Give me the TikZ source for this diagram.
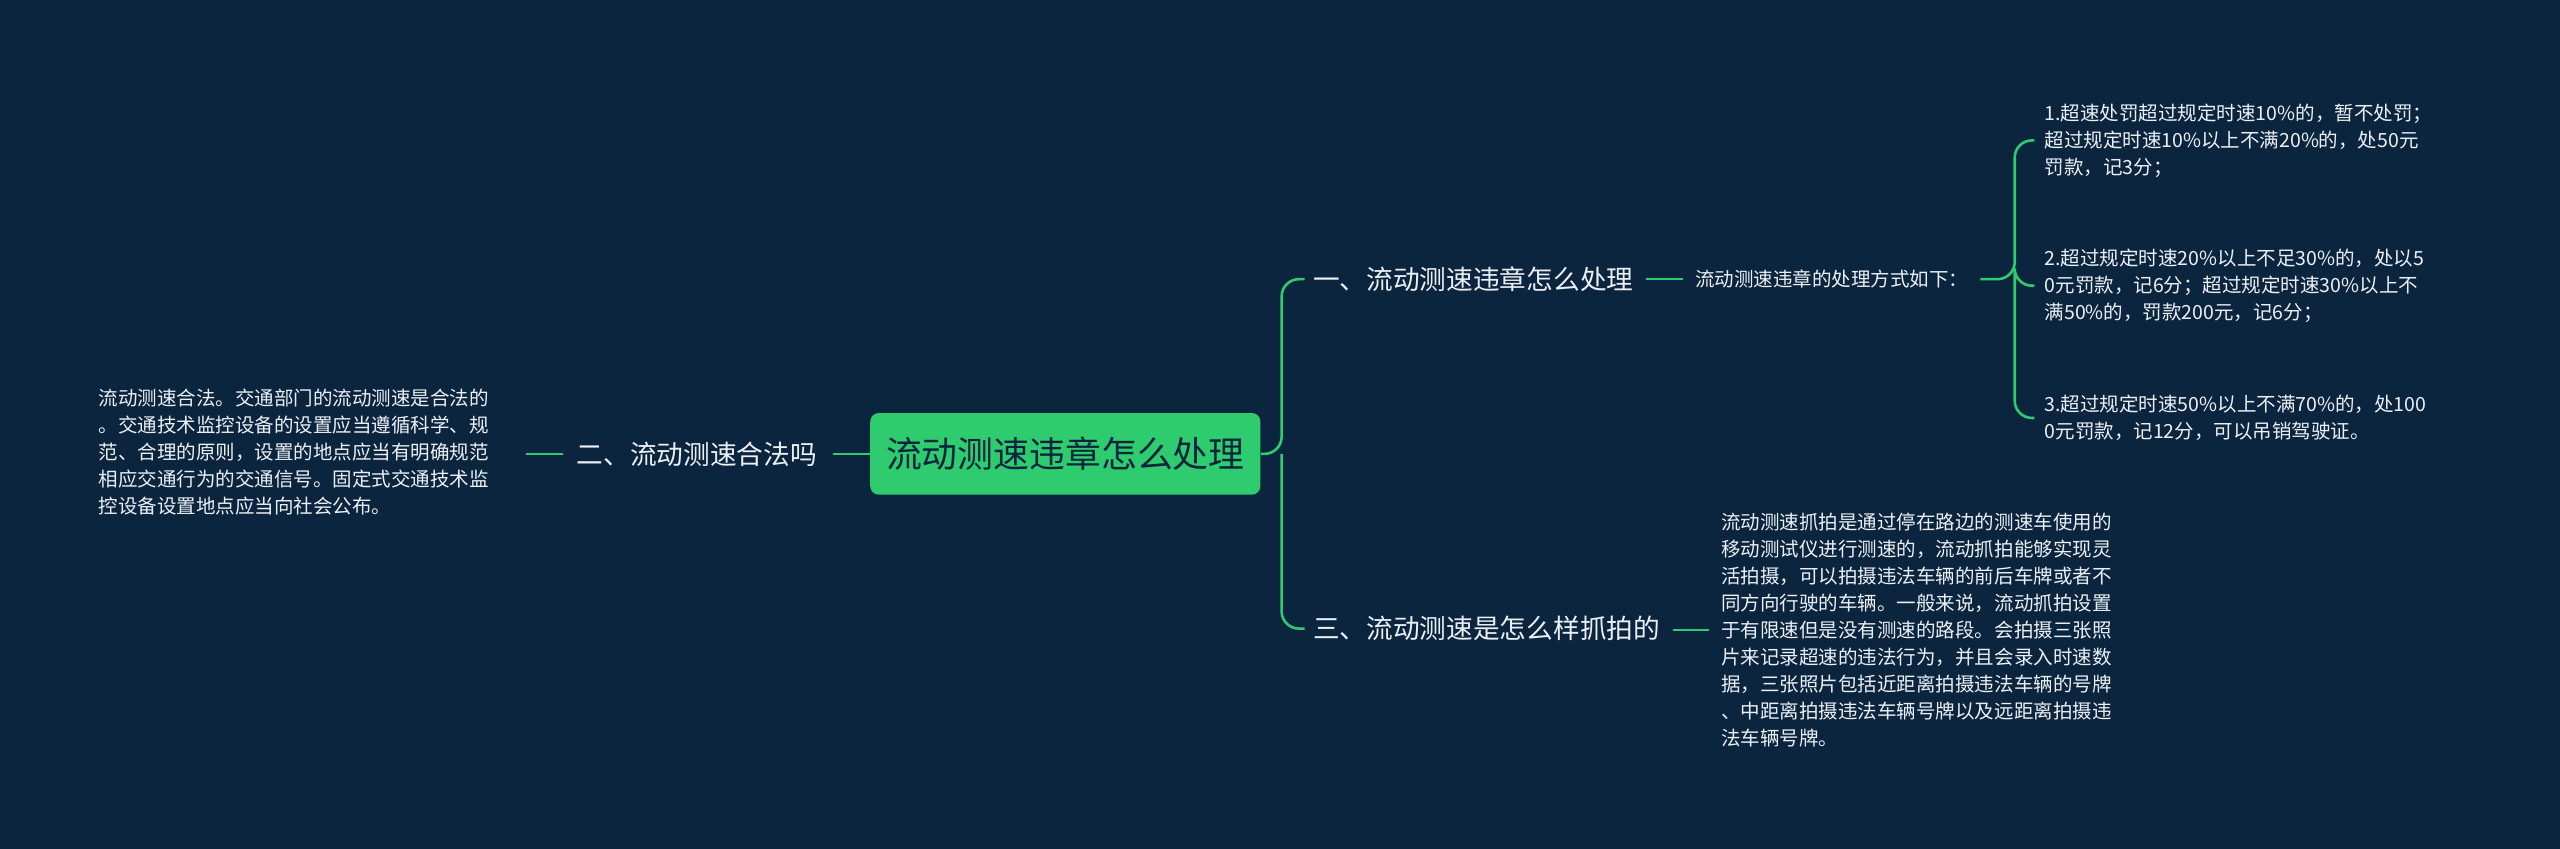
\documentclass[tikz,border=0pt]{standalone}
\usepackage{fontspec}
\setmainfont{Noto Sans CJK SC}
\definecolor{bg}{RGB}{12,37,63}
\definecolor{gr}{RGB}{46,204,110}
\definecolor{tx}{RGB}{235,240,245}
\begin{document}
\begin{tikzpicture}[x=0.02cm,y=-0.02cm,
  small/.style={text=tx,font=\fontsize{6.8}{9.4}\selectfont,align=left,inner sep=0pt,anchor=west},
  br/.style={text=tx,font=\fontsize{9.3}{11}\selectfont,inner sep=0pt,anchor=west},
  ln/.style={draw=gr,line width=0.9pt,rounded corners=6}]
\fill[bg] (0,0) rectangle (1568,520);
\useasboundingbox (0,0) rectangle (1568,520);
\node[fill=gr,rounded corners=3,minimum width=239*0.02cm,minimum height=50*0.02cm,inner sep=0pt,font=\fontsize{12.5}{14}\selectfont,text=bg] (root) at (652.5,278) {流动测速违章怎么处理};
\node[br] (b2) at (353,278) {二、流动测速合法吗};
\node[small] (l2) at (60,277) {流动测速合法。交通部门的流动测速是合法的\\。交通技术监控设备的设置应当遵循科学、规\\范、合理的原则，设置的地点应当有明确规范\\相应交通行为的交通信号。固定式交通技术监\\控设备设置地点应当向社会公布。};
\node[br] (b1) at (804,171) {一、流动测速违章怎么处理};
\node[br] (b3) at (804,385) {三、流动测速是怎么样抓拍的};
\node[small] (m1) at (1038,171) {流动测速违章的处理方式如下：};
\node[small] (k1) at (1252,86) {1.超速处罚超过规定时速10\%的，暂不处罚；\\超过规定时速10\%以上不满20\%的，处50元\\罚款，记3分；};
\node[small] (k2) at (1252,175) {2.超过规定时速20\%以上不足30\%的，处以5\\0元罚款，记6分；超过规定时速30\%以上不\\满50\%的，罚款200元，记6分；};
\node[small] (k3) at (1252,256) {3.超过规定时速50\%以上不满70\%的，处100\\0元罚款，记12分，可以吊销驾驶证。};
\node[small] (l3) at (1054,386) {流动测速抓拍是通过停在路边的测速车使用的\\移动测试仪进行测速的，流动抓拍能够实现灵\\活拍摄，可以拍摄违法车辆的前后车牌或者不\\同方向行驶的车辆。一般来说，流动抓拍设置\\于有限速但是没有测速的路段。会拍摄三张照\\片来记录超速的违法行为，并且会录入时速数\\据，三张照片包括近距离拍摄违法车辆的号牌\\、中距离拍摄违法车辆号牌以及远距离拍摄违\\法车辆号牌。};
\coordinate (c2) at (510,278);
\coordinate (c1) at (799,171);
\coordinate (c3) at (799,385);
\draw[ln] (root.west) -- (c2);
\draw[ln] ([xshift=-8*0.02cm]b2.west) -- (322,278);
\draw[ln] (root.east) -- (785,278) |- (c1);
\draw[ln] (785,278) |- (c3);
\draw[ln] (1008,171) -- (1031,171);
\draw[ln] (1213,171) -- (1234,171) |- (1246,86);
\draw[ln] (1234,171) |- (1246,175);
\draw[ln] (1234,171) |- (1246,256);
\draw[ln] (1025,386) -- (1047,386);
\end{tikzpicture}
\end{document}
